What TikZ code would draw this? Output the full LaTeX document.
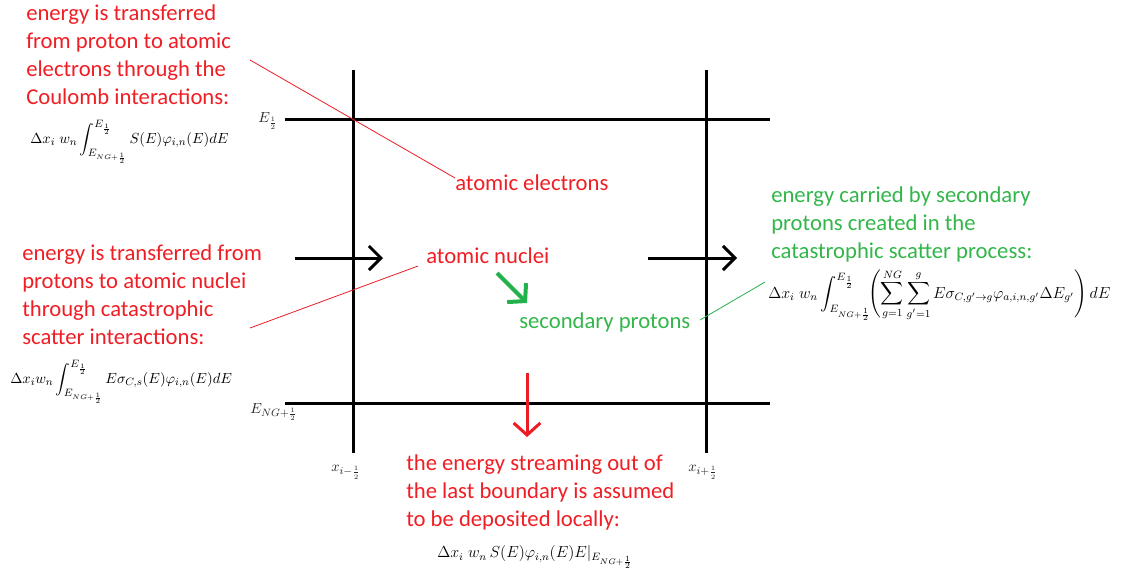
\documentclass[tikz,border=0pt]{standalone}
\usepackage{amsmath}
\usepackage{fontspec}
\setmainfont{Carlito}
\usetikzlibrary{arrows.meta}
\definecolor{txtred}{RGB}{240,30,36}
\definecolor{txtgreen}{RGB}{50,182,74}
\definecolor{arrred}{RGB}{237,28,36}
\definecolor{arrgreen}{RGB}{34,177,76}
\begin{document}
\begin{tikzpicture}[x=0.75pt,y=-0.75pt,
  gridline/.style={line width=2.25pt,black},
  redtxt/.style={text=txtred,font=\fontsize{17}{21}\selectfont,align=left,inner sep=0pt},
  greentxt/.style={text=txtgreen,font=\fontsize{17}{21}\selectfont,align=left,inner sep=0pt},
  formula/.style={inner sep=0pt,font=\fontsize{11}{13}\selectfont},
  axlabel/.style={inner sep=0pt,font=\fontsize{11}{13}\selectfont,text=black!85},
  flow/.style={line width=2.25pt,black,-{Straight Barb[length=9pt,width=18pt,line width=2.25pt]}},
  pointer/.style={line width=0.6pt}]
\useasboundingbox (0,0) rectangle (1125,579);

% grid
\coordinate (h1a) at (285,119); \coordinate (h1b) at (770,119);
\coordinate (h2a) at (285,403); \coordinate (h2b) at (770,403);
\coordinate (v1a) at (353,70);  \coordinate (v1b) at (353,453);
\coordinate (v2a) at (706,70);  \coordinate (v2b) at (706,453);
\draw[gridline] (h1a) -- (h1b);
\draw[gridline] (h2a) -- (h2b);
\draw[gridline] (v1a) -- (v1b);
\draw[gridline] (v2a) -- (v2b);

% axis labels
\node[axlabel,anchor=west] (eh) at (258,121) {$E_{\frac{1}{2}}$};
\node[axlabel,anchor=west] (eng) at (250,412) {$E_{NG+\frac{1}{2}}$};
\node[axlabel,anchor=west] (xm) at (331,472) {$x_{i-\frac{1}{2}}$};
\node[axlabel,anchor=west] (xp) at (688,472) {$x_{i+\frac{1}{2}}$};

% flow arrows
\coordinate (a1s) at (295,258); \coordinate (a1e) at (383,258);
\coordinate (a2s) at (648,258); \coordinate (a2e) at (737,258);
\draw[flow] (a1s) -- (a1e);
\draw[flow] (a2s) -- (a2e);
\coordinate (gs) at (497,273); \coordinate (ge) at (527,303);
\draw[line width=3pt,arrgreen,-{Straight Barb[length=9pt,width=20pt,line width=3pt]}] (gs) -- (ge);
\coordinate (rs) at (527,373); \coordinate (re) at (527,437);
\draw[line width=2.25pt,arrred,-{Straight Barb[length=9pt,width=20pt,line width=2.25pt]}] (rs) -- (re);

% top-left text
\node[redtxt,anchor=north west] (tl) at (26,4) {energy is transferred\\from proton to atomic\\electrons through the\\Coulomb interactions:};
\node[formula,anchor=west] (ftl) at (30,142) {$\Delta x_i\; w_n\displaystyle\int_{E_{NG+\frac{1}{2}}}^{E_{\frac{1}{2}}} S(E)\varphi_{i,n}(E)dE$};

% left text
\node[redtxt,anchor=north west] (ml) at (22,244) {energy is transferred from\\protons to atomic nuclei\\through catastrophic\\scatter interactions:};
\node[formula,anchor=west] (fml) at (10,382) {$\Delta x_i w_n\displaystyle\int_{E_{NG+\frac{1}{2}}}^{E_{\frac{1}{2}}} E\sigma_{C,s}(E)\varphi_{i,n}(E)dE$};

% inner labels
\node[redtxt,anchor=base west] (ae) at (455,190) {atomic electrons};
\node[redtxt,anchor=base west] (an) at (426,263) {atomic nuclei};
\node[greentxt,anchor=base west] (sp) at (519,328) {secondary protons};

% right text
\node[greentxt,anchor=north west] (rt) at (771,186) {energy carried by secondary\\protons created in the\\catastrophic scatter process:};
\node[formula,anchor=west,font=\fontsize{11.5}{13.5}\selectfont] (fr) at (768,295) {$\Delta x_i\; w_n\displaystyle\int_{E_{NG+\frac{1}{2}}}^{E_{\frac{1}{2}}}\!\!\left(\sum_{g=1}^{NG}\sum_{g'=1}^{g} E\sigma_{C,g'\to g}\varphi_{a,i,n,g'}\Delta E_{g'}\right)dE$};

% bottom text
\node[redtxt,anchor=north west] (bt) at (406,454) {the energy streaming out of\\the last boundary is assumed\\to be deposited locally:};
\node[formula,anchor=west,font=\fontsize{12}{14}\selectfont] (fb) at (437,557) {$\Delta x_i\; w_n\, S(E)\varphi_{i,n}(E)E|_{E_{NG+\frac{1}{2}}}$};

% pointer lines
\coordinate (p1a) at (250,60); \coordinate (p1b) at (455,178);
\draw[pointer,arrred] (p1a) -- (p1b);
\coordinate (p2a) at (250,328); \coordinate (p2b) at (418,266);
\draw[pointer,arrred] (p2a) -- (p2b);
\coordinate (p3a) at (700,320); \coordinate (p3b) at (765,282);
\draw[pointer,arrgreen] (p3a) -- (p3b);
\end{tikzpicture}
\end{document}
